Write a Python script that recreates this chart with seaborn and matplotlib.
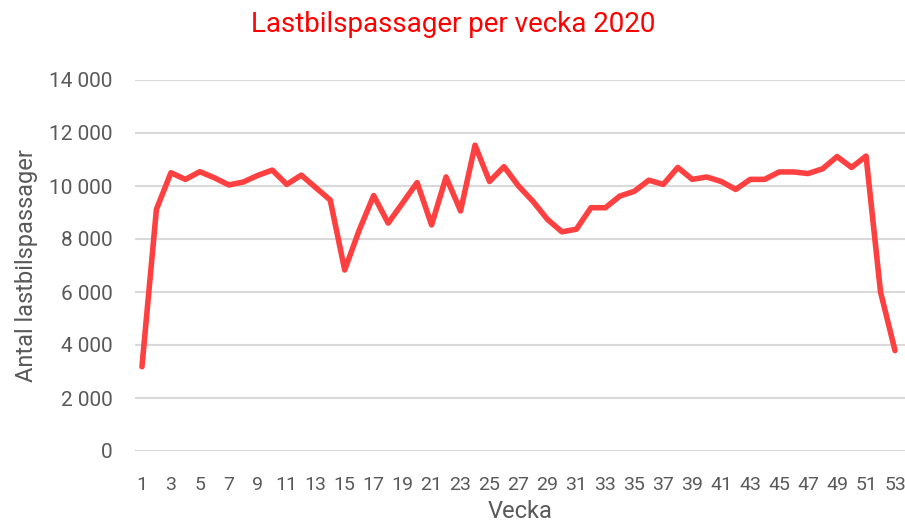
import numpy as np
import matplotlib
matplotlib.use("Agg")
import matplotlib.pyplot as plt
import matplotlib.ticker as mticker
import seaborn as sns
import pandas as pd

# veckodata 2020
weeks = list(range(1, 54))
passagerare = [3180, 9120, 10500, 10250, 10540, 10310, 10040, 10150, 10400, 10600,
               10060, 10410, 9940, 9470, 6830, 8330, 9640, 8600, 9360, 10130,
               8530, 10340, 9060, 11540, 10170, 10730, 10000, 9420, 8740, 8270,
               8370, 9180, 9180, 9620, 9800, 10220, 10060, 10700, 10250, 10340,
               10170, 9870, 10250, 10250, 10530, 10530, 10470, 10650, 11110, 10700,
               11130, 6000, 3790]

df = pd.DataFrame({"Vecka": weeks, "Antal": passagerare})

sns.set_theme(style="white")
plt.rcParams['font.family'] = ['Roboto', 'DejaVu Sans']

grey = "#595959"
fig = plt.figure(figsize=(9.05, 5.25), dpi=100)
ax = fig.add_axes([135 / 905, 74 / 525, 770 / 905, 371 / 525])

sns.lineplot(data=df, x="Vecka", y="Antal", color="#ff4040", linewidth=4, ax=ax)

ax.set_xlim(0.52, 53.69)
ax.set_ylim(0, 14000)
ax.set_xticks(weeks[::2])
ax.set_yticks(range(0, 14001, 2000))
ax.yaxis.set_major_formatter(mticker.FuncFormatter(lambda v, p: f"{int(v):,}".replace(",", " ")))
ax.grid(axis="y", color="#d9d9d9", linewidth=1.5)
ax.set_axisbelow(True)
for s in ax.spines.values():
    s.set_visible(False)
ax.tick_params(axis="both", length=0, colors=grey, labelsize=14)
ax.tick_params(axis="y", pad=16, labelsize=15)
ax.tick_params(axis="x", pad=18)

ax.set_xlabel("Vecka", fontsize=17, color=grey, labelpad=4)
ax.set_ylabel("Antal lastbilspassager", fontsize=17, color=grey, labelpad=8)
fig.text(453 / 905, 1 - 25 / 525, "Lastbilspassager per vecka 2020", color="red",
         fontsize=20, ha="center", va="center")

fig.savefig("out.png", dpi=100)
